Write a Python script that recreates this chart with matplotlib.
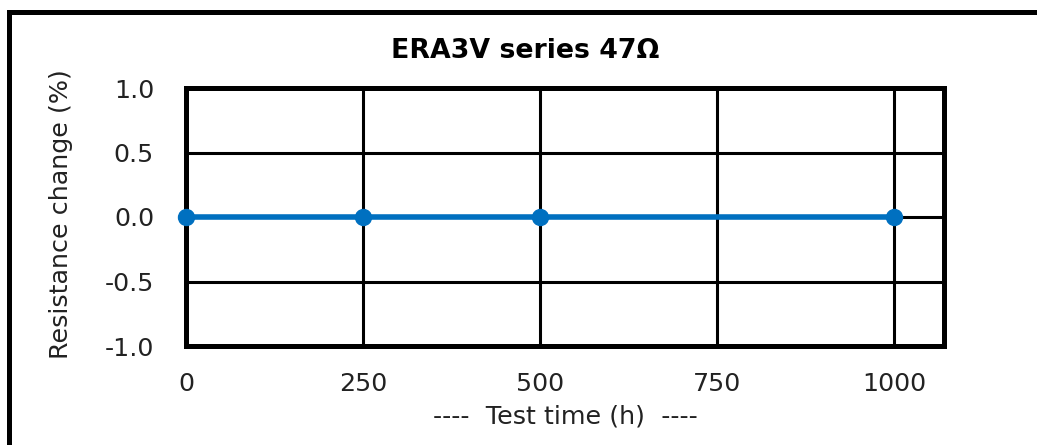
import matplotlib
matplotlib.use("Agg")
import matplotlib.pyplot as plt
from matplotlib.patches import Rectangle

# Data
test_time_h = [0, 250, 500, 1000]
resistance_change_pct = [0.0, 0.0, 0.0, 0.0]
x_ticks = [0, 250, 500, 750, 1000]
y_ticks = [-1.0, -0.5, 0.0, 0.5, 1.0]
y_tick_labels = ["-1.0", "-0.5", "0.0", "0.5", "1.0"]
title = "ERA3V series 47Ω"
x_label = "----  Test time (h)  ----"
y_label = "Resistance change (%)"

plt.rcParams['font.family'] = ['DejaVu Sans']

W, H = 1037, 445
fig = plt.figure(figsize=(W / 100, H / 100), dpi=100)
fig.patch.set_facecolor('white')

# Outer frame (open to the right/bottom edges)
fig.patches.append(Rectangle((8.5 / W, -0.1), 1.2, 1.1 - 12.5 / H,
                             transform=fig.transFigure, fill=False,
                             edgecolor='black', linewidth=3.6, zorder=0))

ax = fig.add_axes([186 / W, 1 - 346 / H, (944 - 186) / W, (346 - 88) / H])
ax.plot(test_time_h, resistance_change_pct, color='#0070C0', linewidth=4,
        marker='o', markersize=11.5, zorder=3, clip_on=False)

ax.set_xlim(0, 1070)
ax.set_ylim(-1, 1)
ax.set_xticks(x_ticks)
ax.set_yticks(y_ticks)
ax.set_yticklabels(y_tick_labels)
ax.grid(True, color='black', linewidth=2.2)
ax.set_axisbelow(True)
for s in ax.spines.values():
    s.set_linewidth(3.6)
    s.set_color('black')
ax.tick_params(axis='both', length=0, labelsize=18.3, colors='#222222')
ax.tick_params(axis='y', pad=23)
ax.tick_params(axis='x', pad=19)

ax.set_xlabel(x_label, fontsize=18.3, color='#222222', labelpad=6)
ax.set_ylabel(y_label, fontsize=18.3, color='#222222')
ax.yaxis.set_label_coords(-0.149, 0.51)
fig.text(525 / W, 1 - 50.5 / H, title, ha='center', va='center',
         fontsize=19.3, fontweight='bold', color='black')

fig.savefig('out.png', dpi=100, facecolor='white')
